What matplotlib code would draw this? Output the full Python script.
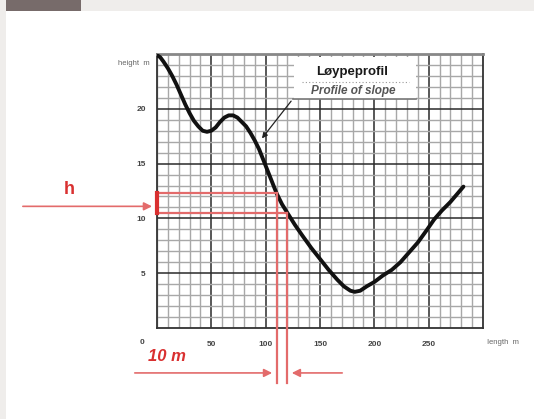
import matplotlib.pyplot as plt
from matplotlib.patches import Rectangle
import numpy as np

# slope profile (length m, height m)
length = [0, 3, 6, 10, 14, 18, 22, 26, 30, 34, 38, 42, 46, 50, 54, 58, 62, 66, 70, 74,
          78, 82, 86, 90, 94, 98, 102, 106, 110, 115, 120, 127, 134, 142, 150, 158, 166,
          172, 178, 182, 187, 193, 200, 208, 216, 224, 232, 240, 248, 255, 262, 270, 276, 282]
height = [24.9, 24.7, 24.3, 23.7, 23.0, 22.2, 21.3, 20.4, 19.6, 18.9, 18.4, 18.0, 17.9,
          18.0, 18.3, 18.8, 19.2, 19.4, 19.4, 19.2, 18.8, 18.4, 17.8, 17.1, 16.3, 15.3,
          14.3, 13.3, 12.3, 11.3, 10.5, 9.4, 8.4, 7.3, 6.3, 5.3, 4.4, 3.8, 3.4, 3.3, 3.4,
          3.8, 4.2, 4.8, 5.3, 6.0, 6.9, 7.8, 8.9, 9.9, 10.7, 11.5, 12.2, 12.9]

xticks = [50, 100, 150, 200, 250]
yticks = [5, 10, 15, 20]

# the 10 m interval and the height difference over it
x1, x2 = 110, 120
h1, h2 = 12.3, 10.5

red = "#d93030"
redl = "#e36b6b"
grey = "#444444"

plt.rcParams['font.family'] = ['Liberation Sans', 'DejaVu Sans']

fig = plt.figure(figsize=(5.34, 4.19), dpi=100)
fig.patch.set_facecolor("white")

# page chrome at the top / left
fig.patches.append(Rectangle((0, 1 - 11/419), 1, 11/419, transform=fig.transFigure,
                             facecolor="#efedeb", edgecolor="none"))
fig.patches.append(Rectangle((0, 0), 6/534, 1, transform=fig.transFigure,
                             facecolor="#efedeb", edgecolor="none"))
fig.patches.append(Rectangle((6/534, 1 - 11/419), 75/534, 11/419, transform=fig.transFigure,
                             facecolor="#776b6a", edgecolor="none"))

ax = fig.add_axes([157/534, 1 - 328/419, 326/534, 274/419])
ax.set_xlim(0, 300)
ax.set_ylim(0, 25)

# grid paper
ax.set_xticks(np.arange(0, 301, 10), minor=True)
ax.set_yticks(np.arange(0, 26, 1), minor=True)
ax.set_xticks(xticks)
ax.set_yticks(yticks)
ax.grid(which="minor", color="#a8a8a8", lw=1.0)
ax.grid(which="major", color="#2a2a2a", lw=1.1)
ax.set_axisbelow(True)
ax.tick_params(which="both", length=0)
ax.tick_params(axis="x", pad=9)
ax.tick_params(axis="y", pad=8)
ax.set_xticklabels([str(v) for v in xticks], fontsize=6, fontweight="bold", color=grey)
ax.set_yticklabels([str(v) for v in yticks], fontsize=6, fontweight="bold", color=grey)
for s in ["left", "bottom", "right"]:
    ax.spines[s].set_color("#333333")
    ax.spines[s].set_linewidth(1.3)
ax.spines["top"].set_color("#888888")
ax.spines["top"].set_linewidth(2)

ax.text(-14, -1.3, "0", fontsize=6, fontweight="bold", color=grey, ha="center", va="center", clip_on=False)
ax.text(-7, 24.1, "height  m", fontsize=5.5, color="#666666", ha="right", va="center", clip_on=False)
ax.text(300, -1.3, "  length  m", fontsize=5.5, color="#666666", ha="left", va="center", clip_on=False)

# profile
ax.plot(length, height, color="#111111", lw=2.8, solid_capstyle="round",
        solid_joinstyle="round", zorder=5)

# label box
ax.add_patch(Rectangle((126, 20.9), 112, 3.8, facecolor="white", edgecolor="none", zorder=3))
ax.text(180, 23.4, "Løypeprofil", fontsize=9.5, fontweight="bold", color="#1a1a1a",
        ha="center", va="center", zorder=4)
ax.plot([133, 232], [22.4, 22.4], color="#999999", lw=0.8, ls=(0, (1, 2)), zorder=4)
ax.text(181, 21.6, "Profile of slope", fontsize=8.5, fontweight="bold", style="italic",
        color="#555555", ha="center", va="center", zorder=4)
ax.plot([125, 238], [20.9, 20.9], color="#777777", lw=1.2, zorder=4)
ax.annotate("", xy=(95, 17.1), xytext=(125, 20.9),
            arrowprops=dict(arrowstyle="-|>", color="#222222", lw=0.9, mutation_scale=8), zorder=4)

# height difference h
ax.plot([0, x1], [h1, h1], color=redl, lw=1.6, zorder=6)
ax.plot([0, x2], [h2, h2], color=redl, lw=1.6, zorder=6)
ax.plot([0, 0], [h2, h1], color=red, lw=3, zorder=6, clip_on=False)
ax.plot([x1, x1], [h1, -5.0], color=redl, lw=1.6, zorder=6, clip_on=False)
ax.plot([x2, x2], [h2, -5.0], color=redl, lw=1.6, zorder=6, clip_on=False)
ax.annotate("", xy=(-2, 11.1), xytext=(-126, 11.1), annotation_clip=False,
            arrowprops=dict(arrowstyle="-|>", color=redl, lw=1.2, mutation_scale=12))
ax.text(-81, 12.6, "h", fontsize=13, fontweight="bold", color=red, ha="center", va="center", clip_on=False)

# 10 m
ax.annotate("", xy=(x1 - 1.5, -4.1), xytext=(-23, -4.1), annotation_clip=False,
            arrowprops=dict(arrowstyle="-|>", color=redl, lw=1.2, mutation_scale=12))
ax.annotate("", xy=(x2 + 1.5, -4.1), xytext=(173, -4.1), annotation_clip=False,
            arrowprops=dict(arrowstyle="-|>", color=redl, lw=1.2, mutation_scale=12))
ax.text(-8, -2.6, "10 m", fontsize=12, fontweight="bold", style="italic", color=red,
        ha="left", va="center", clip_on=False)

fig.savefig("out.png", dpi=100)
